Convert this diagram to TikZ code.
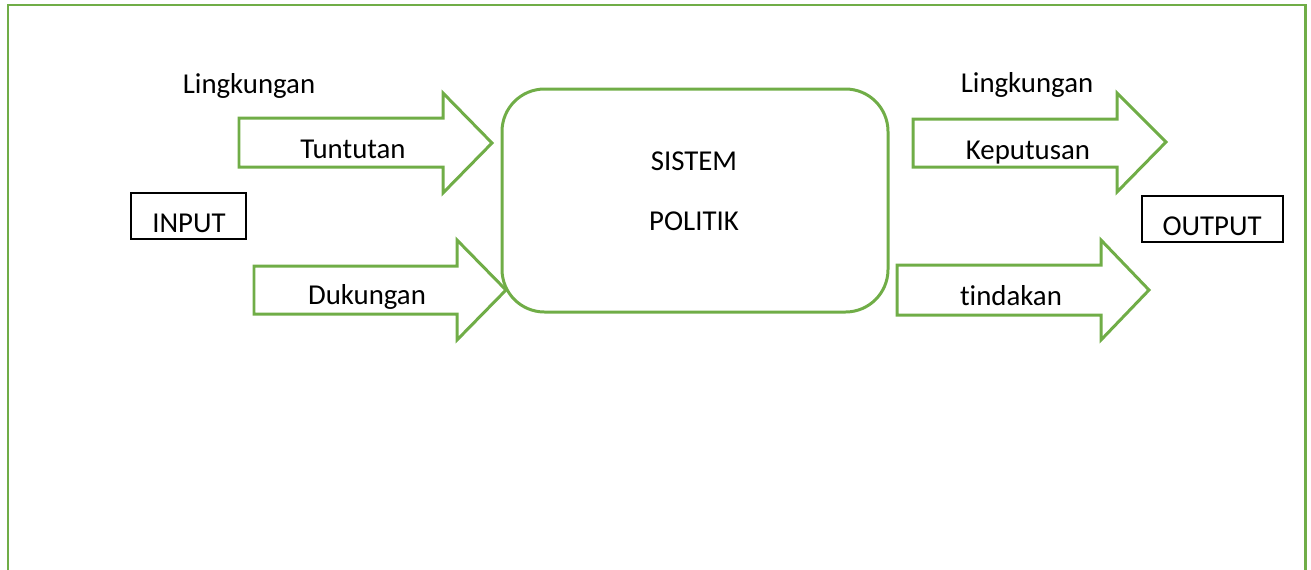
\documentclass[tikz,border=0pt]{standalone}
\usepackage{fontspec}
\setmainfont[Ligatures=NoCommon]{Carlito}
\usepackage{tikz, xcolor}
\definecolor{sysgreen}{HTML}{70AD47}

\begin{document}
\begin{tikzpicture}[x=0.02cm, y=-0.02cm, font=\fontsize{16.4}{20}\selectfont]
    \useasboundingbox (0, 0) rectangle (1311, 569);
    \clip (0, 0) rectangle (1311, 569);

    % frame
    \draw [color=sysgreen, line width=1.7pt] (8, 575) -- (8, 5) -- (1305, 5) -- (1305, 575);

    % input side
    \draw [color=sysgreen, line width=1.7pt, line join=miter] (239, 118) -- (443, 118) -- (443, 93) -- (492, 143) -- (443, 193) -- (443, 167) -- (239, 167) -- cycle;
    \draw [color=sysgreen, line width=1.7pt, line join=miter] (254, 266) -- (457, 266) -- (457, 240) -- (506, 290) -- (457, 340) -- (457, 314) -- (254, 314) -- cycle;

    \node [anchor=base] (lingin) at (249, 93) {Lingkungan};
    \node [anchor=base] (tuntutan) at (353, 158) {Tuntutan};
    \node [anchor=base] (dukungan) at (367, 304) {Dukungan};
    \draw [line width=0.8pt] (131, 193) rectangle (246, 239);
    \node [anchor=base] (input) at (189, 232) {INPUT};

    % system
    \draw [color=sysgreen, line width=1.7pt, rounded corners=0.85cm] (502, 89) rectangle (888, 312);
    \node [anchor=base] (sistem) at (694, 170) {SISTEM};
    \node [anchor=base] (politik) at (694, 230) {POLITIK};

    % output side
    \draw [color=sysgreen, line width=1.7pt, line join=miter] (913, 119) -- (1117, 119) -- (1117, 93) -- (1166, 142) -- (1117, 192) -- (1117, 167) -- (913, 167) -- cycle;
    \draw [color=sysgreen, line width=1.7pt, line join=miter] (897, 265) -- (1101, 265) -- (1101, 240) -- (1149, 290) -- (1101, 340) -- (1101, 315) -- (897, 315) -- cycle;

    \node [anchor=base] (lingout) at (1027, 92) {Lingkungan};
    \node [anchor=base] (keputusan) at (1028, 159) {Keputusan};
    \node [anchor=base] (tindakan) at (1011, 305) {tindakan};
    \draw [line width=0.8pt] (1142, 196) rectangle (1283, 242);
    \node [anchor=base] (output) at (1212, 235) {OUTPUT};

  \end{tikzpicture}
\end{document}
